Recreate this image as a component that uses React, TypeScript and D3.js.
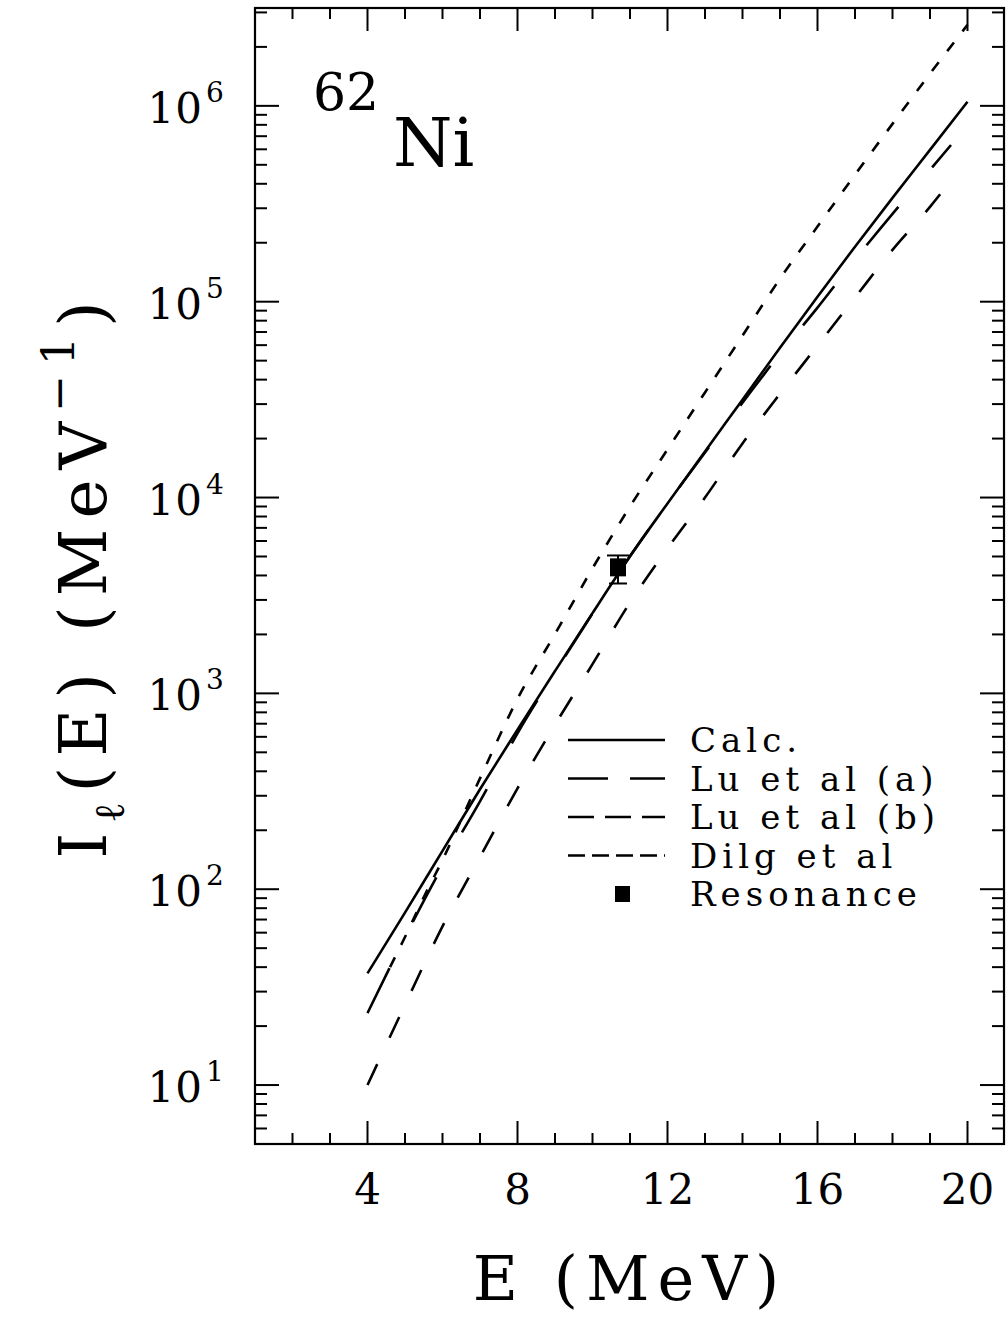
import * as d3 from "d3";

// energies (MeV) at which curves were read
const energies = [4, 5, 6, 7, 8, 9, 10, 11, 12, 13, 14, 15, 16, 17, 18, 19, 20];

const calcValues = [37.2, 75.9, 157, 324, 653, 1300, 2570, 5010, 9330, 17200, 31600, 58200, 106000, 191000, 339000, 596000, 1050000];

const luAEnergies = [4, 5, 6, 7, 8, 9, 10, 11, 12, 13, 14, 15, 16, 17, 18, 19, 19.56];
const luAValues = [23.3, 56.9, 131, 281, 625, 1280, 2560, 5010, 9330, 17000, 30500, 54300, 93300, 164000, 281000, 471000, 631000];

const luBEnergies = [4, 5, 6, 7, 8, 9, 10, 11, 12, 13, 14, 15, 16, 17, 18, 19, 19.7];
const luBValues = [10.0, 25.7, 64.6, 146, 327, 692, 1410, 2910, 5500, 10000, 18900, 33900, 59700, 105000, 184000, 305000, 450000];

const dilgEnergies = [4.6, 5, 5.5, 6, 7, 8, 9, 10, 11, 12, 13, 14, 15, 16, 17, 18, 19, 20];
const dilgValues = [40, 57, 91, 141, 368, 937, 2010, 4350, 9000, 17600, 34400, 67100, 131000, 242000, 445000, 809000, 1460000, 2590000];

// resonance point: E, value, lower, upper
const resonance = { e: 10.68, v: 4400, lo: 3640, hi: 5060 };

const xMajorTicks = [4, 8, 12, 16, 20];
const xMinorTicks = [2, 3, 5, 6, 7, 9, 10, 11, 13, 14, 15, 17, 18, 19];
const yDecades = [1, 2, 3, 4, 5, 6];

const legendItems = [
    { label: "Calc.", dash: null },
    { label: "Lu et al (a)", dash: "40,22" },
    { label: "Lu et al (b)", dash: "26,11" },
    { label: "Dilg et al", dash: "17,7" },
    { label: "Resonance", dash: "marker" },
];

const W = 1007;
const H = 1317;
const left = 255, right = 1004, top = 8, bottom = 1144;
const font = "'DejaVu Serif', 'Liberation Serif', serif";

export default function App() {
    const x = d3.scaleLinear().domain([1, 21]).range([left, 1005]);
    const y = d3.scaleLog().domain([5, 3.16e6]).range([bottom, top]);

    const line = d3
        .line<[number, number]>()
        .x((d) => x(d[0]))
        .y((d) => y(d[1]))
        .curve(d3.curveMonotoneX);

    const series = [
        { e: energies, v: calcValues, dash: undefined },
        { e: luAEnergies, v: luAValues, dash: "50,52" },
        { e: luBEnergies, v: luBValues, dash: "23,29" },
        { e: dilgEnergies, v: dilgValues, dash: "11,14" },
    ];

    // minor log ticks 2..9 per decade within domain
    const yMinor: number[] = [];
    for (let p = 0; p <= 6; p++) {
        for (let m = 2; m <= 9; m++) {
            const v = m * Math.pow(10, p);
            if (v > 5 && v < 3.16e6) yMinor.push(v);
        }
    }

    const legX0 = 568, legX1 = 665, legText = 690;
    const legY = (i: number) => 740 + i * 38.5;

    return (
        <svg
            width={W}
            height={H}
            style={{ position: "absolute", left: 0, top: 0, background: "#fff" }}
        >
            <rect x={0} y={0} width={W} height={H} fill="#fff" />
            {/* frame */}
            <rect
                x={left}
                y={top}
                width={right - left}
                height={bottom - top}
                fill="none"
                stroke="#000"
                strokeWidth={2.2}
            />

            {/* x ticks, bottom and top */}
            {xMajorTicks.map((t) => (
                <g key={"xM" + t}>
                    <line x1={x(t)} x2={x(t)} y1={bottom} y2={bottom - 23} stroke="#000" strokeWidth={2} />
                    <line x1={x(t)} x2={x(t)} y1={top} y2={top + 23} stroke="#000" strokeWidth={2} />
                    <text x={x(t)} y={1204} fontSize={42} fontFamily={font} textAnchor="middle">
                        {t}
                    </text>
                </g>
            ))}
            {xMinorTicks.map((t) => (
                <g key={"xm" + t}>
                    <line x1={x(t)} x2={x(t)} y1={bottom} y2={bottom - 11} stroke="#000" strokeWidth={2} />
                    <line x1={x(t)} x2={x(t)} y1={top} y2={top + 11} stroke="#000" strokeWidth={2} />
                </g>
            ))}

            {/* y ticks, left and right */}
            {yDecades.map((p) => {
                const yy = y(Math.pow(10, p));
                return (
                    <g key={"yM" + p}>
                        <line x1={left} x2={left + 24} y1={yy} y2={yy} stroke="#000" strokeWidth={2} />
                        <line x1={right} x2={right - 24} y1={yy} y2={yy} stroke="#000" strokeWidth={2} />
                        <text x={203} y={yy + 17} fontSize={42} fontFamily={font} textAnchor="end" letterSpacing={1}>
                            10
                        </text>
                        <text x={206} y={yy - 4} fontSize={28} fontFamily={font}>
                            {p}
                        </text>
                    </g>
                );
            })}
            {yMinor.map((v) => (
                <g key={"ym" + v}>
                    <line x1={left} x2={left + 12} y1={y(v)} y2={y(v)} stroke="#000" strokeWidth={2} />
                    <line x1={right} x2={right - 12} y1={y(v)} y2={y(v)} stroke="#000" strokeWidth={2} />
                </g>
            ))}

            {/* curves */}
            {series.map((s, i) => (
                <path
                    key={"s" + i}
                    d={line(s.e.map((e, j) => [e, s.v[j]] as [number, number])) || ""}
                    fill="none"
                    stroke="#000"
                    strokeWidth={2.6}
                    strokeDasharray={s.dash}
                />
            ))}

            {/* resonance point */}
            <g>
                <line x1={x(resonance.e)} x2={x(resonance.e)} y1={y(resonance.lo)} y2={y(resonance.hi)} stroke="#000" strokeWidth={2} />
                <line x1={x(resonance.e) - 11} x2={x(resonance.e) + 11} y1={y(resonance.hi)} y2={y(resonance.hi)} stroke="#000" strokeWidth={2} />
                <line x1={x(resonance.e) - 9} x2={x(resonance.e) + 9} y1={y(resonance.lo)} y2={y(resonance.lo)} stroke="#000" strokeWidth={2} />
                <rect x={x(resonance.e) - 8} y={y(resonance.v) - 9} width={16} height={18} fill="#000" />
            </g>

            {/* legend */}
            {legendItems.map((it, i) => (
                <g key={"leg" + i}>
                    {it.dash === "marker" ? (
                        <rect x={615} y={legY(i) - 8} width={15} height={16} fill="#000" />
                    ) : (
                        <line
                            x1={legX0}
                            x2={legX1}
                            y1={legY(i)}
                            y2={legY(i)}
                            stroke="#000"
                            strokeWidth={2.4}
                            strokeDasharray={it.dash || undefined}
                        />
                    )}
                    <text
                        x={legText}
                        y={legY(i) + 12}
                        fontSize={34}
                        fontFamily={font}
                        letterSpacing={5}
                    >
                        {it.label}
                    </text>
                </g>
            ))}

            {/* nucleus label */}
            <text x={313} y={110} fontSize={52} fontFamily={font}>
                62
            </text>
            <text x={393} y={166} fontSize={68} fontFamily={font}>
                Ni
            </text>

            {/* axis titles */}
            <text x={630} y={1300} fontSize={62} fontFamily={font} textAnchor="middle" letterSpacing={8}>
                E (MeV)
            </text>
            <text
                transform="translate(106, 575) rotate(-90)"
                fontSize={66}
                fontFamily={font}
                textAnchor="middle"
                letterSpacing={10}
            >
                I
                <tspan fontSize={42} dy={18}>ℓ</tspan>
                <tspan dy={-18}>(E) (MeV</tspan>
                <tspan fontSize={44} dy={-32}>−1</tspan>
                <tspan dy={32}>)</tspan>
            </text>
        </svg>
    );
}
